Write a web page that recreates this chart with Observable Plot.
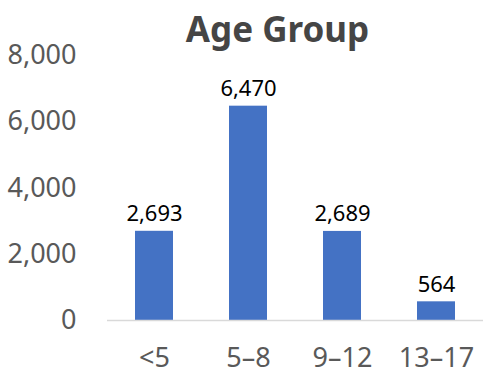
<!DOCTYPE html>
<html>
<head>
<meta charset="utf-8">
<script src="https://cdn.jsdelivr.net/npm/d3@7"></script>
<script src="https://cdn.jsdelivr.net/npm/@observablehq/plot@0.6"></script>
<style>
  html, body { margin: 0; background: #fff; overflow: hidden; font-family: "Noto Sans", "Open Sans", sans-serif; }
  #wrap { position: relative; width: 484px; height: 375px; }
  #title { position: absolute; top: 11px; left: 277.5px; transform: translateX(-50%); white-space: nowrap; font-weight: bold; font-size: 35px; line-height: 35px; color: #454545; }
</style>
</head>
<body>
<div id="wrap">
  <div id="title">Age Group</div>
  <div id="chart"></div>
</div>
<script>
const categories = ["<5", "5–8", "9–12", "13–17"];
const values = [2693, 6470, 2689, 564];
const yTicks = [0, 2000, 4000, 6000, 8000];

const data = categories.map((c, i) => ({ category: c, value: values[i] }));

const plot = Plot.plot({
  width: 484,
  height: 375,
  marginTop: 55,
  marginBottom: 55,
  marginLeft: 107,
  marginRight: 1,
  style: { fontFamily: "Noto Sans, Open Sans, sans-serif", background: "transparent" },
  x: { domain: categories, paddingInner: 0.6, paddingOuter: 0.3, label: null },
  y: { domain: [0, 8000], label: null },
  marks: [
    Plot.axisY({ ticks: yTicks, tickFormat: d3.format(","), tickSize: 0, tickPadding: 31, fontSize: 27, color: "#595959", label: null }),
    Plot.axisX({ tickSize: 0, tickPadding: 27, fontSize: 27, color: "#595959", label: null }),
    Plot.barY(data, { x: "category", y: "value", fill: "#4472C4" }),
    Plot.ruleY([0], { stroke: "#d9d9d9", strokeWidth: 1.5 }),
    Plot.text(data, { x: "category", y: "value", text: d => d3.format(",")(d.value), dy: -17, fontSize: 22, fill: "#000" })
  ]
});
document.getElementById("chart").appendChild(plot);
</script>
</body>
</html>
